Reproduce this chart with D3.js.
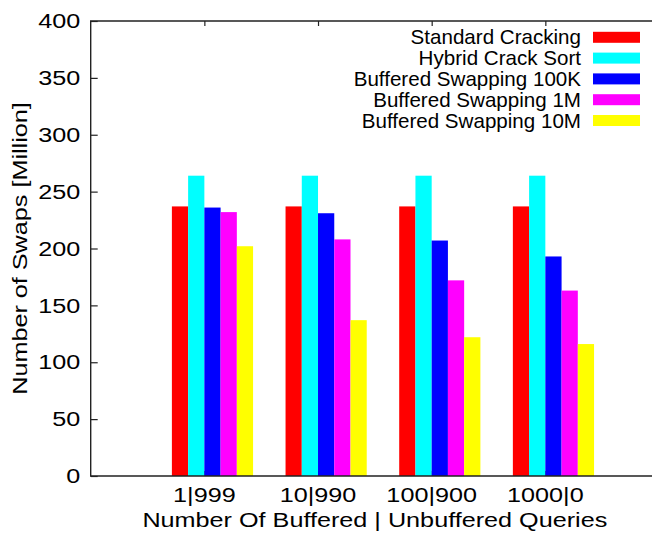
<!DOCTYPE html>
<html>
<head>
<meta charset="utf-8">
<script src="https://cdn.jsdelivr.net/npm/d3@7"></script>
<style>
  html, body { margin: 0; padding: 0; background: #fff; }
  svg { display: block; }
  text { font-family: "Liberation Sans", Arial, Helvetica, sans-serif; fill: #000; }
</style>
</head>
<body>
<svg id="chart" width="652" height="536"></svg>
<script>
// Query mixes (buffered | unbuffered)
const categories = ["1|999", "10|990", "100|900", "1000|0"];

// Series names and their colours
const seriesNames = [
  "Standard Cracking",
  "Hybrid Crack Sort",
  "Buffered Swapping 100K",
  "Buffered Swapping 1M",
  "Buffered Swapping 10M"
];
const seriesColors = ["#ff0000", "#00ffff", "#0000ff", "#ff00ff", "#ffff00"];

// Number of swaps in millions, one array per series
const standardCracking = [237, 237, 237, 237];
const hybridCrackSort = [264, 264, 264, 264];
const buffered100K = [236, 231, 207, 193];
const buffered1M = [232, 208, 172, 163];
const buffered10M = [202, 137, 122, 116];
const seriesValues = [standardCracking, hybridCrackSort, buffered100K, buffered1M, buffered10M];

const yTicks = [0, 50, 100, 150, 200, 250, 300, 350, 400];

const svg = d3.select("#chart");
const plot = { left: 90.7, right: 659, top: 21, bottom: 476 };
const wide = 1.2; // horizontal stretch of the axis lettering

// Clusters sit at integer positions 0..3; the frame runs from -1 to 4
const x = d3.scaleLinear().domain([-1, categories.length]).range([plot.left, plot.right]);
const y = d3.scaleLinear().domain([0, 400]).range([plot.bottom, plot.top]);

const gap = 2;
const slot = 1 / (seriesNames.length + gap);

// Cluster tick marks along the bottom (drawn first, bars cover them)
const xAxisBottom = d3.axisBottom(x).tickValues(d3.range(categories.length))
  .tickSizeInner(-5).tickSizeOuter(0).tickFormat("");
svg.append("g").attr("transform", `translate(0,${plot.bottom})`).call(xAxisBottom)
  .call(g => g.select(".domain").remove())
  .call(g => g.selectAll("line").attr("stroke", "#222").attr("stroke-width", 1.2));

// Bars
seriesValues.forEach((vals, j) => {
  svg.append("g").selectAll("rect")
    .data(vals)
    .join("rect")
    .attr("x", (d, i) => x(i + (j - 2) * slot))
    .attr("width", (d, i) => x(i + (j - 1) * slot) - x(i + (j - 2) * slot))
    .attr("y", d => y(d))
    .attr("height", d => y(0) - y(d))
    .attr("fill", seriesColors[j]);
});

// Left axis: ticks point into the plot
const yAxis = d3.axisLeft(y).tickValues(yTicks).tickSizeInner(-7).tickSizeOuter(0);
svg.append("g").attr("transform", `translate(${plot.left},0)`).call(yAxis)
  .call(g => g.select(".domain").remove())
  .call(g => g.selectAll("line").attr("stroke", "#222").attr("stroke-width", 1.2))
  .call(g => g.selectAll("text")
    .attr("font-size", 21).attr("font-family", null).attr("fill", "#000")
    .attr("x", 0)
    .attr("transform", `translate(-10.5,0) scale(${wide},1)`));

// Mirrored cluster ticks along the top
const xAxisTop = d3.axisTop(x).tickValues(d3.range(categories.length))
  .tickSizeInner(-5).tickSizeOuter(0).tickFormat("");
svg.append("g").attr("transform", `translate(0,${plot.top})`).call(xAxisTop)
  .call(g => g.select(".domain").remove())
  .call(g => g.selectAll("line").attr("stroke", "#222").attr("stroke-width", 1.2));

// Cluster labels
svg.append("g").selectAll("text")
  .data(categories)
  .join("text")
  .attr("transform", (d, i) => `translate(${x(i)},502) scale(${wide},1)`)
  .attr("text-anchor", "middle")
  .attr("font-size", 21)
  .text(d => d);

// Frame (left, top, bottom)
svg.append("path")
  .attr("d", `M${plot.right},${plot.top}H${plot.left}V${plot.bottom}H${plot.right}`)
  .attr("fill", "none").attr("stroke", "#222").attr("stroke-width", 1.4);

// Axis titles
svg.append("text")
  .attr("transform", `translate(${(plot.left + plot.right) / 2},527) scale(${wide},1)`)
  .attr("text-anchor", "middle")
  .attr("font-size", 21)
  .text("Number Of Buffered | Unbuffered Queries");

svg.append("text")
  .attr("transform", `translate(27,${(plot.top + plot.bottom) / 2}) rotate(-90) scale(${wide},1)`)
  .attr("text-anchor", "middle")
  .attr("font-size", 21)
  .text("Number of Swaps [Million]");

// Legend: right-aligned labels with a colour swatch to the right
const legend = svg.append("g");
seriesNames.forEach((name, j) => {
  const cy = 37.3 + j * 20.8;
  legend.append("text")
    .attr("transform", `translate(581,${cy + 7}) scale(1.04,1)`)
    .attr("text-anchor", "end")
    .attr("font-size", 19.8)
    .text(name);
  legend.append("rect")
    .attr("x", 593).attr("y", cy - 5.5)
    .attr("width", 47).attr("height", 11)
    .attr("fill", seriesColors[j]);
});
</script>
</body>
</html>
